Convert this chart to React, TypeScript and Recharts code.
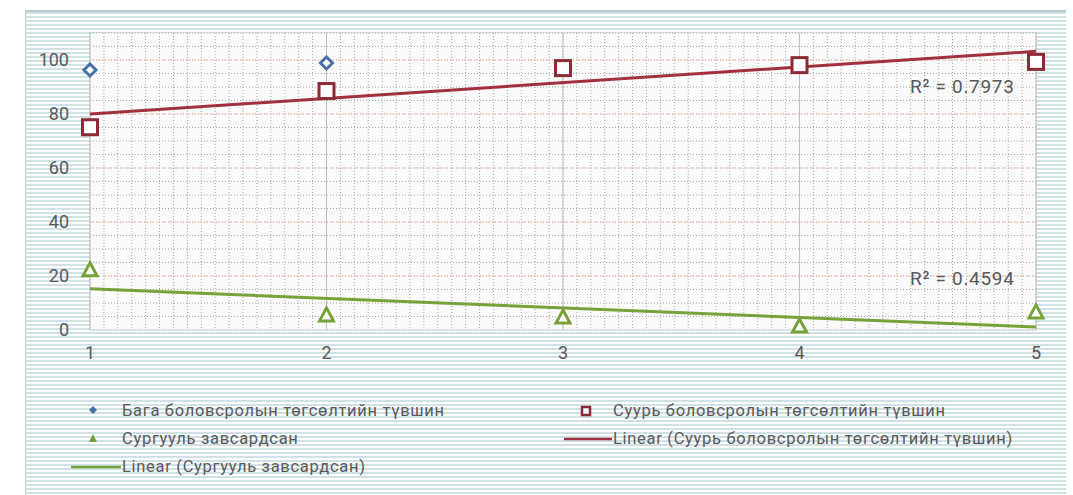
import React from 'react';
import {
  ComposedChart,
  Scatter,
  Line,
  XAxis,
  YAxis,
  CartesianGrid,
} from 'recharts';

// survey rounds on the x axis
const xTicks = [1, 2, 3, 4, 5];
const yTicks = [0, 20, 40, 60, 80, 100];
const yMax = 110;

// Бага боловсролын төгсөлтийн түвшин (only two visible points)
const primaryX = [1, 2];
const primaryY = [96.3, 98.9];

// Суурь боловсролын төгсөлтийн түвшин
const basicX = [1, 2, 3, 4, 5];
const basicY = [75.1, 88.5, 97, 98.1, 99.3];

// Сургууль завсардсан
const dropoutX = [1, 2, 3, 4, 5];
const dropoutY = [22.3, 5.6, 4.8, 1.5, 6.7];

const r2Labels = ['R² = 0.7973', 'R² = 0.4594'];

const TEXT = '#595959';
const BLUE = '#4a70a8';
const RED = '#8c2a35';
const RED_LINE = '#a3303e';
const GREEN = '#77a23a';

const toPoints = (xs: number[], ys: number[]) => xs.map((x, i) => ({ x, y: ys[i] }));

// least squares trend, evaluated at the axis ends like Excel does
function trend(xs: number[], ys: number[]) {
  const n = xs.length;
  const mx = xs.reduce((a, b) => a + b, 0) / n;
  const my = ys.reduce((a, b) => a + b, 0) / n;
  let sxy = 0;
  let sxx = 0;
  xs.forEach((x, i) => {
    sxy += (x - mx) * (ys[i] - my);
    sxx += (x - mx) * (x - mx);
  });
  const slope = sxy / sxx;
  const lo = xTicks[0];
  const hi = xTicks[xTicks.length - 1];
  return [
    { x: lo, y: my + slope * (lo - mx) },
    { x: hi, y: my + slope * (hi - mx) },
  ];
}

const primaryData = toPoints(primaryX, primaryY);
const basicData = toPoints(basicX, basicY);
const dropoutData = toPoints(dropoutX, dropoutY);
const basicTrend = trend(basicX, basicY);
const dropoutTrend = trend(dropoutX, dropoutY);

// plot-area fill pattern: dotted grid, independent of the data
const minorRows = (args: any) => {
  const { offset } = args;
  return Array.from({ length: 23 }, (_, i) => offset.top + (i * offset.height) / 22);
};
const minorCols = (args: any) => {
  const { offset } = args;
  return Array.from({ length: 69 }, (_, i) => offset.left + (i * offset.width) / 68);
};
const majorRows = (args: any) => {
  const { offset } = args;
  return yTicks.filter((v) => v > 0).map((v) => offset.top + offset.height * (1 - v / yMax));
};

const Diamond = (p: any) => (
  <path
    d={`M${p.cx},${p.cy - 6} L${p.cx + 6},${p.cy} L${p.cx},${p.cy + 6} L${p.cx - 6},${p.cy} Z`}
    fill="#fff"
    stroke={BLUE}
    strokeWidth={3}
  />
);

const Square = (p: any) => (
  <rect x={p.cx - 7.5} y={p.cy - 7.5} width={15} height={15} fill="#fff" stroke={RED} strokeWidth={3} />
);

const Triangle = (p: any) => (
  <path
    d={`M${p.cx},${p.cy - 7} L${p.cx + 7},${p.cy + 6} L${p.cx - 7},${p.cy + 6} Z`}
    fill="#fff"
    stroke={GREEN}
    strokeWidth={3}
  />
);

const legendText: React.CSSProperties = {
  position: 'absolute',
  fontSize: 16.5,
  letterSpacing: 0.7,
  color: TEXT,
  lineHeight: '18px',
  whiteSpace: 'nowrap',
};

const r2Text: React.CSSProperties = {
  position: 'absolute',
  left: 884,
  fontSize: 19,
  letterSpacing: 0.7,
  color: TEXT,
  whiteSpace: 'nowrap',
};

function LegendBox() {
  return (
    <>
      <svg style={{ position: 'absolute', left: 0, top: 380 }} width={1041} height={100}>
        <path d="M67,14 L71,18 L67,22 L63,18 Z" fill={BLUE} />
        <rect x={556} y={15} width={8} height={8} fill="#fff" stroke={RED} strokeWidth={2.5} />
        <path d="M67,42 L71,50 L63,50 Z" fill={GREEN} />
        <line x1={538} y1={47} x2={586} y2={47} stroke={RED_LINE} strokeWidth={2.5} />
        <line x1={45} y1={75} x2={95} y2={75} stroke={GREEN} strokeWidth={2.5} />
      </svg>
      <div style={{ ...legendText, left: 96, top: 390 }}>Бага боловсролын төгсөлтийн түвшин</div>
      <div style={{ ...legendText, left: 587, top: 390 }}>Суурь боловсролын төгсөлтийн түвшин</div>
      <div style={{ ...legendText, left: 96, top: 418 }}>Сургууль завсардсан</div>
      <div style={{ ...legendText, left: 587, top: 418 }}>Linear (Суурь боловсролын төгсөлтийн түвшин)</div>
      <div style={{ ...legendText, left: 96, top: 446 }}>Linear (Сургууль завсардсан)</div>
    </>
  );
}

export default function App() {
  return (
    <div
      style={{
        position: 'absolute',
        left: 25,
        top: 10,
        width: 1041,
        height: 485,
        fontFamily: 'Roboto, sans-serif',
        background:
          'repeating-linear-gradient(to bottom, #cfe0e6 0px, #cfe0e6 2px, #ffffff 2px, #ffffff 4px)',
        borderTop: '2px solid #b9c6ca',
        borderLeft: '1px solid #c4cfd2',
        boxSizing: 'border-box',
      }}
    >
      <ComposedChart
        width={1040}
        height={483}
        margin={{ top: 21, right: 30, left: 0, bottom: 135 }}
      >
        <CartesianGrid
          fill="#fafafa"
          stroke="#a8a8a8"
          strokeDasharray="1 2"
          horizontalCoordinatesGenerator={minorRows}
          verticalCoordinatesGenerator={minorCols}
        />
        <CartesianGrid
          stroke="#efc9bb"
          strokeDasharray="4 2"
          vertical={false}
          horizontalCoordinatesGenerator={majorRows}
        />
        <CartesianGrid stroke="#bdbdbd" horizontal={false} />
        <XAxis
          dataKey="x"
          type="number"
          domain={[1, 5]}
          ticks={xTicks}
          height={30}
          tickSize={0}
          tickMargin={16}
          axisLine={{ stroke: '#c9ced8' }}
          tick={{ fill: TEXT, fontSize: 18 }}
        />
        <YAxis
          dataKey="y"
          type="number"
          domain={[0, yMax]}
          ticks={yTicks}
          width={64}
          tickSize={0}
          tickMargin={21}
          axisLine={false}
          tick={{ fill: TEXT, fontSize: 18 }}
        />
        <Scatter data={primaryData} shape={Diamond} isAnimationActive={false} />
        <Scatter data={basicData} shape={Square} isAnimationActive={false} />
        <Scatter data={dropoutData} shape={Triangle} isAnimationActive={false} />
        <Line
          data={basicTrend}
          dataKey="y"
          stroke={RED_LINE}
          strokeWidth={3}
          dot={false}
          isAnimationActive={false}
        />
        <Line
          data={dropoutTrend}
          dataKey="y"
          stroke={GREEN}
          strokeWidth={3}
          dot={false}
          isAnimationActive={false}
        />
      </ComposedChart>
      <div style={{ ...r2Text, top: 63 }}>{r2Labels[0]}</div>
      <div style={{ ...r2Text, top: 255 }}>{r2Labels[1]}</div>
      <LegendBox />
    </div>
  );
}
